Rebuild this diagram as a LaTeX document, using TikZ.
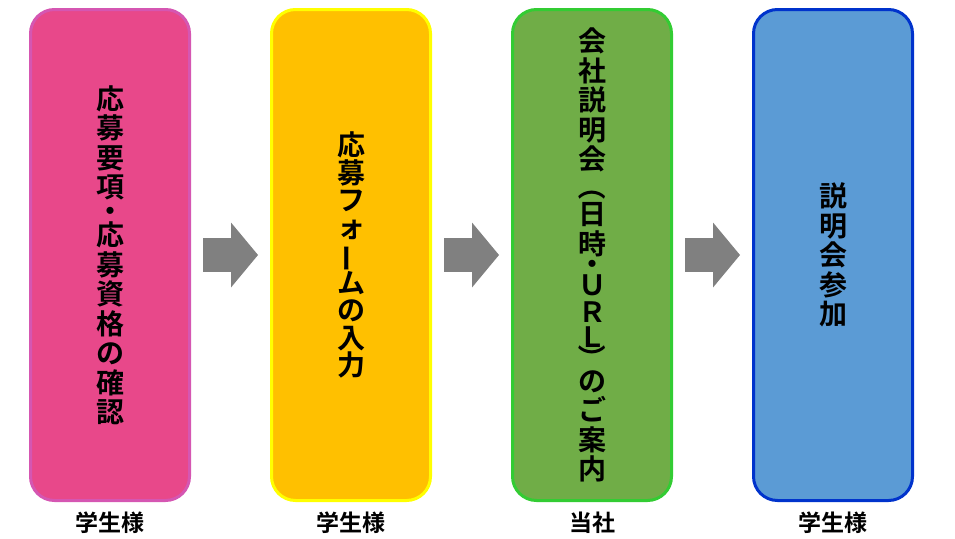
\documentclass[tikz,border=0pt]{standalone}
\usepackage{fontspec}
\usepackage{tikz}
\usetikzlibrary{arrows.meta}
\pgfdeclarelayer{bg}
\pgfsetlayers{bg,main}
\newfontfamily\jpfont{Noto Sans CJK JP Bold}
\definecolor{pinkfill}{RGB}{232,72,138}
\definecolor{pinkline}{RGB}{213,86,178}
\definecolor{orangefill}{RGB}{255,192,0}
\definecolor{orangeline}{RGB}{255,255,0}
\definecolor{greenfill}{RGB}{112,173,71}
\definecolor{greenline}{RGB}{51,204,51}
\definecolor{bluefill}{RGB}{91,155,213}
\definecolor{blueline}{RGB}{0,51,204}
\definecolor{arrowgray}{RGB}{128,128,128}
% characters turned for vertical setting
\newcommand{\vbar}{\rotatebox[origin=c]{90}{ー}}
\newcommand{\vopen}{\rotatebox[origin=c]{-90}{（}}
\newcommand{\vclose}{\rotatebox[origin=c]{-90}{）}}
\tikzset{
        flowbox/.style={rectangle, rounded corners=24pt, line width=3pt,
                minimum width=159pt, minimum height=491pt, align=center,
                font=\jpfont\fontsize{28}{29.5}\selectfont},
        who/.style={font=\jpfont\fontsize{23}{23}\selectfont, inner sep=0pt},
        blockarrow/.style={draw=arrowgray, line width=34pt,
                shorten <=12pt, shorten >=12pt,
                -{Triangle[length=27pt, width=65pt, line width=0pt, fill=arrowgray]}}
}

\begin{document}
\begin{tikzpicture}[label distance=10pt]
        \useasboundingbox (0pt, 0pt) rectangle (955pt, -538pt);
        \node (b1) [flowbox, fill=pinkfill, draw=pinkline, label={[who]below:学生様}] at (110pt, -255pt)
                {応\\募\\要\\項\\[-5.5pt]・\\[-5.5pt]応\\募\\資\\格\\の\\確\\認};
        \node (b2) [flowbox, fill=orangefill, draw=orangeline, label={[who]below:学生様}] at (351pt, -255pt)
                {応\\[-2.2pt]募\\[-2.2pt]フ\\[-2.2pt]ォ\\[-2.2pt]\vbar\\[-2.2pt]ム\\[-2.2pt]の\\[-2.2pt]入\\[-2.2pt]力};
        \node (b3) [flowbox, fill=greenfill, draw=greenline, label={[who]below:当社}] at (592pt, -255pt)
                {会\\社\\説\\明\\会\\[-2pt]\vopen\\[-2pt]日\\時\\[-9pt]・\\[-9pt]Ｕ\\[-2pt]Ｒ\\[-5pt]Ｌ\\[-7.5pt]\vclose\\[-7.5pt]の\\ご\\案\\内};
        \node (b4) [flowbox, fill=bluefill, draw=blueline, label={[who]below:学生様}] at (833pt, -255pt)
                {説\\明\\会\\参\\加};
        \begin{pgfonlayer}{bg}
                \draw (b1) edge [blockarrow] (b2);
                \draw (b2) edge [blockarrow] (b3);
                \draw (b3) edge [blockarrow] (b4);
        \end{pgfonlayer}
\end{tikzpicture}
\end{document}
